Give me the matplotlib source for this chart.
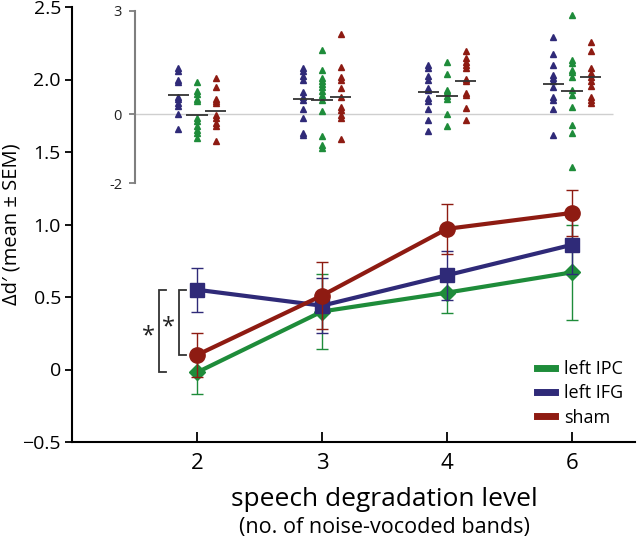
import numpy as np
import matplotlib
matplotlib.use("Agg")
import matplotlib.pyplot as plt
import matplotlib.transforms as mtrans
from matplotlib.lines import Line2D

plt.rcParams['font.family'] = ['Open Sans', 'DejaVu Sans']

# Group means +- SEM (main panel)
levels = ['2', '3', '4', '6']
ipc_mean = [-0.02, 0.40, 0.53, 0.67]
ipc_sem = [0.15, 0.26, 0.14, 0.33]
ifg_mean = [0.55, 0.44, 0.65, 0.86]
ifg_sem = [0.15, 0.19, 0.17, 0.20]
sham_mean = [0.10, 0.51, 0.97, 1.08]
sham_sem = [0.15, 0.23, 0.17, 0.16]

# Individual subjects (inset), one list per degradation level
ifg_subj = [
    [1.33, 1.26, 0.99, 0.92, 0.51, 0.43, 0.32, 0.22, 0.0, -0.43],
    [1.35, 1.25, 1.11, 0.99, 0.64, 0.51, 0.41, 0.14, -0.12, -0.55, -0.60],
    [1.43, 1.33, 1.11, 0.99, 0.75, 0.70, 0.46, 0.37, 0.14, -0.18, -0.50],
    [2.25, 1.75, 1.43, 1.14, 1.04, 0.97, 0.78, 0.51, 0.41, 0.14, -0.60],
]
ipc_subj = [
    [0.94, 0.68, 0.59, 0.43, 0.37, -0.12, -0.21, -0.34, -0.45, -0.55, -0.68],
    [1.86, 1.28, 1.04, 0.96, 0.88, 0.78, 0.68, 0.56, 0.41, 0.08, -0.63, -0.89, -0.98],
    [1.52, 1.17, 0.70, 0.63, 0.53, 0.43, 0.01, -0.36],
    [2.87, 1.57, 1.48, 1.28, 1.21, 1.07, 0.70, 0.56, 0.20, -0.31, -0.55, -1.54],
]
sham_subj = [
    [1.06, 0.78, 0.43, 0.37, 0.32, -0.02, -0.12, -0.26, -0.34, -0.79],
    [2.31, 1.38, 1.07, 0.99, 0.75, 0.51, 0.20, 0.13, -0.02, -0.12, -0.72],
    [1.84, 1.62, 1.52, 1.43, 1.33, 1.02, 0.97, 0.61, 0.56, 0.17, -0.18],
    [2.10, 1.84, 1.33, 1.19, 1.07, 0.95, 0.82, 0.51, 0.41, 0.32],
]

GREEN, BLUE, RED = '#1e8c3a', '#2f2a78', '#8e1b12'
W, H = 640, 541


def px_box(l, t, r, b):
    # axes rect from pixel edges (top-left origin)
    return [l / W, 1 - b / H, (r - l) / W, (b - t) / H]


fig = plt.figure(figsize=(W / 100, H / 100), dpi=100)
ax = fig.add_axes(px_box(72, 7, 634.5, 442))
x = np.arange(len(levels))

# main panel
series = [
    (ipc_mean, ipc_sem, 'D', 8, GREEN),
    (ifg_mean, ifg_sem, 's', 10, BLUE),
    (sham_mean, sham_sem, 'o', 11, RED),
]
for i, (m, s, mk, ms, c) in enumerate(series):
    ax.errorbar(x, m, yerr=s, color=c, lw=3, marker=mk, ms=ms, capsize=4.5,
                elinewidth=1, capthick=1, zorder=3 + i)

ax.set_xlim(-1, 3.5)
ax.set_ylim(-0.5, 2.5)
ax.set_xticks(x)
ax.set_xticklabels(levels)
ax.set_yticks([-0.5, 0, 0.5, 1.0, 1.5, 2.0, 2.5])
ax.set_yticklabels(['\u22120.5', '0', '0.5', '1.0', '1.5', '2.0', '2.5'])
for sp in ['top', 'right']:
    ax.spines[sp].set_visible(False)
for sp in ['left', 'bottom']:
    ax.spines[sp].set_linewidth(1.5)
ax.tick_params(axis='y', direction='out', length=5, width=1.3, labelsize=14, pad=3)
ax.tick_params(axis='x', direction='in', length=7, width=1.3, labelsize=16, pad=8)
ax.set_ylabel('\u0394d\u2032 (mean \u00b1 SEM)', fontsize=14.5)
ax.yaxis.set_label_coords(-0.089, 0.5)

# significance brackets at level 2
arm = 0.056
for xb, ybot in [(-0.304, ipc_mean[0]), (-0.144, sham_mean[0])]:
    ax.plot([xb + arm, xb, xb, xb + arm], [ifg_mean[0], ifg_mean[0], ybot, ybot],
            color='#333333', lw=1.3, solid_joinstyle='miter')
ax.text(-0.39, 0.23, '*', fontsize=17, ha='center', va='center', color='#222222')
ax.text(-0.23, 0.29, '*', fontsize=17, ha='center', va='center', color='#222222')

# legend
handles = [Line2D([], [], color=c, lw=5) for c in (GREEN, BLUE, RED)]
fig.legend(handles, ['left IPC', 'left IFG', 'sham'], loc='upper left',
           bbox_to_anchor=(537 / W, 1 - 360 / H), frameon=False, fontsize=13,
           handlelength=1.0, handletextpad=0.5, labelspacing=0.35,
           borderpad=0, borderaxespad=0)

# axis title, two lines
tr = mtrans.blended_transform_factory(ax.transData, fig.transFigure)
ax.text(1.5, 1 - 500 / H, 'speech degradation level', transform=tr,
        ha='center', va='center', fontsize=19)
ax.text(1.5, 1 - 527 / H, '(no. of noise-vocoded bands)', transform=tr,
        ha='center', va='center', fontsize=15.5)

# inset with single subjects
ins = fig.add_axes(px_box(72, 10.7, 634.5, 183))
ins.patch.set_alpha(0)
ins.set_xlim(-1, 3.5)
ins.set_ylim(-2, 3)
for sp in ['top', 'right', 'bottom']:
    ins.spines[sp].set_visible(False)
ins.spines['left'].set_position(('data', -0.5))
ins.spines['left'].set_color('#7f7f7f')
ins.spines['left'].set_linewidth(1.5)
ins.set_xticks([])
ins.set_yticks([-2, 0, 3])
ins.set_yticklabels(['-2', '0', '3'])
ins.tick_params(axis='y', length=4, width=1.3, color='#7f7f7f', labelsize=10.5,
                pad=5, labelcolor='#222222')
ins.hlines(0, -0.5, 3.33, color='#cfcfcf', lw=1, zorder=1)

offs = [-0.15, 0, 0.15]
groups = [(ifg_subj, ifg_mean, BLUE), (ipc_subj, ipc_mean, GREEN), (sham_subj, sham_mean, RED)]
for off, (subj, means, c) in zip(offs, groups):
    for i, vals in enumerate(subj):
        ins.plot(np.full(len(vals), x[i] + off), vals, '^', ms=5, color=c,
                 mec=c, lw=0, zorder=2)
        ins.hlines(means[i], x[i] + off - 0.085, x[i] + off + 0.085,
                   color='#333333', lw=1.3, zorder=3)

fig.savefig('out.png', dpi=100)
